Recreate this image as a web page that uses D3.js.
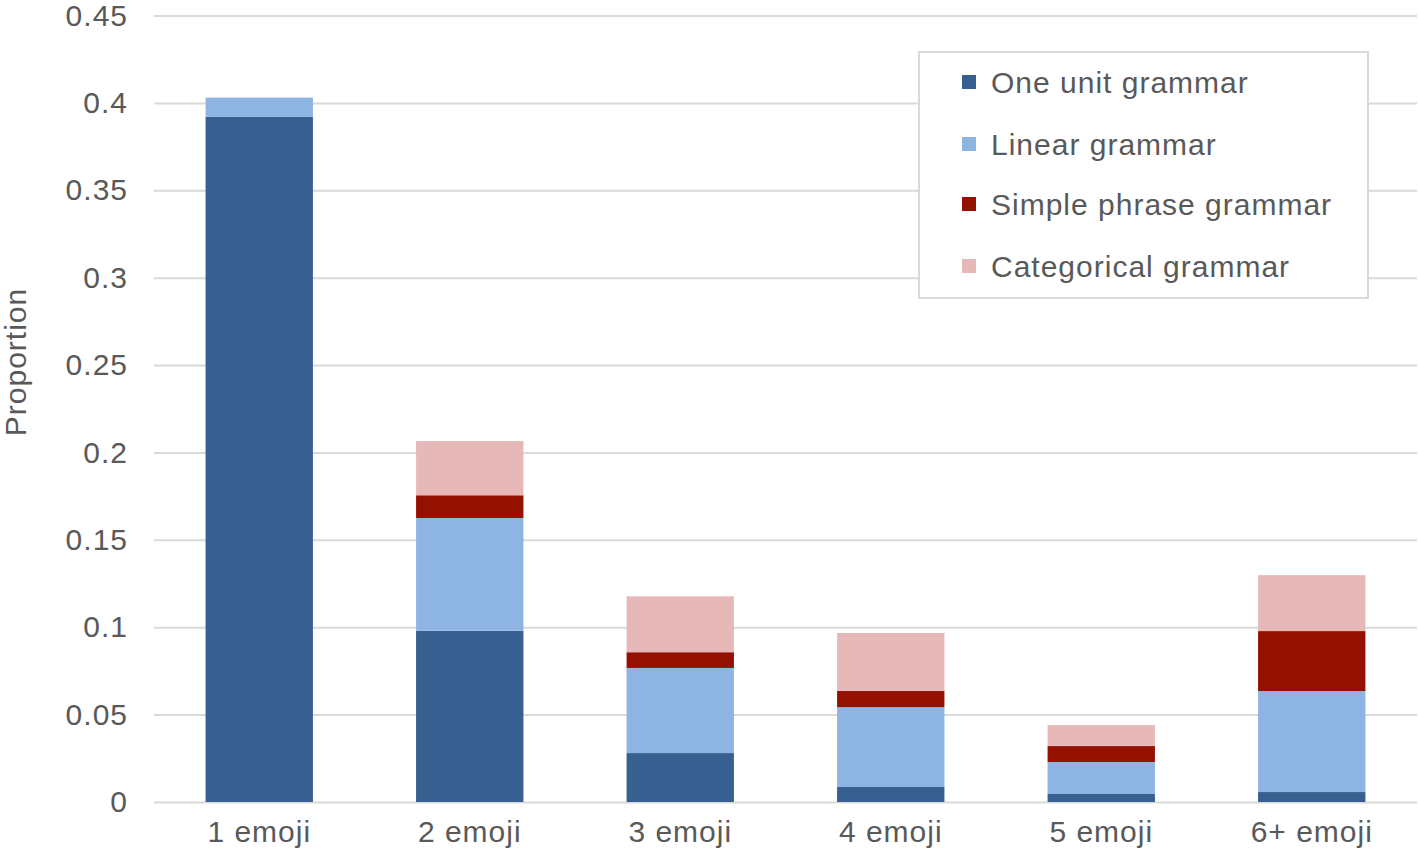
<!DOCTYPE html>
<html>
<head>
<meta charset="utf-8">
<script src="https://cdn.jsdelivr.net/npm/d3@7"></script>
<style>
html,body{margin:0;padding:0;background:#fff;}
svg{display:block;font-family:"Liberation Sans",Arial,Helvetica,sans-serif;}
</style>
</head>
<body>
<svg id="chart" width="1418" height="854"></svg>
<script>
const categories = ["1 emoji","2 emoji","3 emoji","4 emoji","5 emoji","6+ emoji"];
const seriesNames = ["One unit grammar","Linear grammar","Simple phrase grammar","Categorical grammar"];
const oneUnit     = [0.392, 0.098, 0.028, 0.0086, 0.0046, 0.0057];
const linear      = [0.011, 0.0645, 0.0487, 0.0457, 0.0183, 0.0578];
const simplePhrase= [0.000, 0.013, 0.009, 0.0092, 0.0091, 0.0343];
const categorical = [0.000, 0.031, 0.032, 0.0332, 0.012, 0.032];
const yTicks = [0,0.05,0.1,0.15,0.2,0.25,0.3,0.35,0.4,0.45];
const colors = ["#375f8f","#8eb4e3","#941100","#e6b9b8"];

(function(){
const svg = d3.select("#chart");
const mLeft = 154, mRight = 1417, mTop = 15.5, mBottom = 802;
const FS = 30, LS = "1px";

const rows = categories.map((c,i)=>({cat:c, s0:oneUnit[i], s1:linear[i], s2:simplePhrase[i], s3:categorical[i]}));
const stack = d3.stack().keys(["s0","s1","s2","s3"])(rows);

const x = d3.scaleBand().domain(categories).range([mLeft,mRight]).paddingInner(0.49).paddingOuter(0.245);
const y = d3.scaleLinear().domain([0,0.45]).range([mBottom,mTop]);

const yAxis = d3.axisLeft(y).tickValues(yTicks).tickFormat(d=>d===0?"0":String(+d.toFixed(2))).tickSize(-(mRight-mLeft)).tickPadding(26);
const gy = svg.append("g").attr("transform",`translate(${mLeft},0)`).call(yAxis);
gy.select(".domain").remove();
gy.selectAll(".tick line").attr("stroke","#d9d9d9").attr("stroke-width",2);
gy.selectAll(".tick text").attr("fill","#595959").attr("font-size",FS).attr("letter-spacing",LS)
  .attr("font-family","Liberation Sans, Arial, sans-serif");

svg.append("g").selectAll("g").data(stack).join("g")
  .attr("fill",(d,i)=>colors[i])
  .selectAll("rect").data(d=>d).join("rect")
  .attr("x",d=>x(d.data.cat))
  .attr("width",x.bandwidth())
  .attr("y",d=>y(d[1]))
  .attr("height",d=>Math.max(0,y(d[0])-y(d[1])));

const xAxis = d3.axisBottom(x).tickSize(0).tickPadding(19);
const gx = svg.append("g").attr("transform",`translate(0,${mBottom})`).call(xAxis);
gx.select(".domain").remove();
gx.selectAll(".tick text").attr("fill","#595959").attr("font-size",FS).attr("letter-spacing",LS)
  .attr("font-family","Liberation Sans, Arial, sans-serif");

svg.append("text").attr("transform","translate(26,362) rotate(-90)")
  .attr("text-anchor","middle").attr("fill","#595959").attr("font-size",FS).attr("letter-spacing",LS).text("Proportion");

const lg = svg.append("g");
lg.append("rect").attr("x",919).attr("y",52).attr("width",449).attr("height",246)
  .attr("fill","#fff").attr("stroke","#d9d9d9").attr("stroke-width",2);
const rowY = [82,144,204,266];
seriesNames.forEach((n,i)=>{
  lg.append("rect").attr("x",962).attr("y",rowY[i]-7).attr("width",14).attr("height",14).attr("fill",colors[i]);
  lg.append("text").attr("x",991).attr("y",rowY[i]).attr("dy","0.35em").attr("fill","#595959")
    .attr("font-size",FS).attr("letter-spacing",LS).text(n);
});
})();
</script>
</body>
</html>
